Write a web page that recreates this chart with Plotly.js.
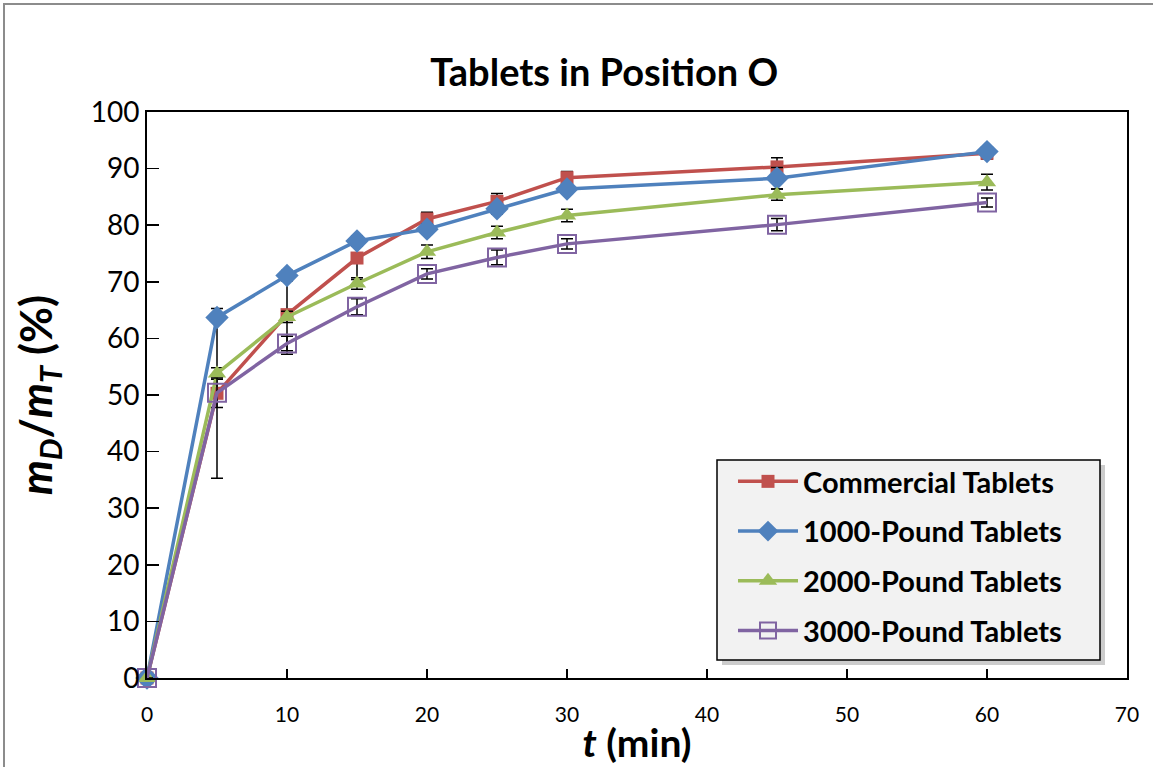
<!DOCTYPE html>
<html>
<head>
<meta charset="utf-8">
<script src="https://cdn.plot.ly/plotly-3.0.1.min.js"></script>
<style>
html,body{margin:0;padding:0;background:#fff;}
#wrap{position:relative;width:1153px;height:767px;}
#chart{position:absolute;left:0;top:0;width:1153px;height:767px;}
#frame{position:absolute;left:3px;top:3px;width:1150px;height:764px;border-left:2px solid #8c8c8c;border-top:2px solid #8c8c8c;pointer-events:none;}
</style>
</head>
<body>
<div id="wrap"><div id="chart"></div><div id="frame"></div></div>
<script>
const t = [0, 5, 10, 15, 20, 25, 30, 45, 60];
const commercial = [0, 50.3, 64.2, 74.2, 81.1, 84.2, 88.4, 90.3, 92.7];
const commercialErr = [0, 15, 7, 3.8, 1.2, 1.4, 1.1, 1.6, 1.0];
const pound1000 = [0, 63.7, 71.1, 77.2, 79.3, 82.9, 86.4, 88.3, 93.0];
const pound1000Err = [0, 0.8, 0.9, 0.9, 0.9, 0.9, 0.8, 1.9, 0.8];
const pound2000 = [0, 53.8, 63.8, 69.7, 75.3, 78.7, 81.7, 85.4, 87.6];
const pound2000Err = [0, 1.0, 1.0, 1.0, 1.2, 1.1, 1.1, 1.0, 1.4];
const pound3000 = [0, 50.4, 59.1, 65.6, 71.4, 74.3, 76.7, 80.1, 84.0];
const pound3000Err = [0, 2.6, 1.3, 1.4, 0.9, 1.3, 0.9, 1.1, 0.8];
const seriesNames = ['Commercial Tablets', '1000-Pound Tablets', '2000-Pound Tablets', '3000-Pound Tablets'];

function err(arr){
  return {type:'data', array:arr, visible:true, color:'#000', thickness:1.5, width:6};
}
const traces = [
  {x:t, y:commercial, error_y:err(commercialErr), name:seriesNames[0], legendgroup:'a',
   mode:'lines+markers', line:{color:'#C0504D', width:3.5},
   marker:{symbol:'square', size:13, color:'#C0504D'}},
  {x:t, y:pound1000, error_y:err(pound1000Err), name:seriesNames[1], legendgroup:'b',
   mode:'lines+markers', line:{color:'#4F81BD', width:3.5},
   marker:{symbol:'diamond', size:18, color:'#4F81BD'}},
  {x:t, y:pound2000, error_y:err(pound2000Err), name:seriesNames[2], legendgroup:'c',
   mode:'lines+markers', line:{color:'#9BBB59', width:3.5},
   marker:{symbol:'triangle-up', size:16, color:'#9BBB59'}},
  {x:t, y:pound3000, error_y:err(pound3000Err), name:seriesNames[3], legendgroup:'d',
   mode:'lines+markers', line:{color:'#8064A2', width:3.5},
   marker:{symbol:'square-open', size:18, color:'#8064A2', line:{width:2, color:'#8064A2'}}}
];
traces.forEach(tr => tr.cliponaxis = false);

// legend box (pixel positions converted to paper fractions of the 980x566 plot area)
const PW = 980, PH = 566, PL = 147, PB = 678;
const bx0 = (717 - PL) / PW, bx1 = (1100 - PL) / PW;
const by0 = (PB - 660) / PH, by1 = (PB - 460) / PH;
const sh = 5;

const layout = {
  width:1153, height:767,
  margin:{l:147, r:26, t:112, b:89},
  paper_bgcolor:'rgba(0,0,0,0)', plot_bgcolor:'#fff',
  font:{family:'Lato, sans-serif', color:'#000'},
  showlegend:true,
  title:{text:'<b>Tablets in Position O</b>', font:{size:38, family:'Lato, sans-serif', color:'#000'},
         x:0.524, xanchor:'center', y:0.905, yanchor:'middle'},
  xaxis:{range:[0,70], dtick:10, tick0:0, ticks:'inside', ticklen:9, tickwidth:1.5, tickcolor:'#000',
         showline:true, linecolor:'#000', linewidth:2, mirror:true, showgrid:false, zeroline:false,
         tickfont:{size:21, color:'#000'}, ticklabelstandoff:17,
         title:{text:'<b><i>t</i> (min)</b>', font:{size:39, color:'#000'}, standoff:4}},
  yaxis:{range:[0,100], dtick:10, tick0:0, ticks:'inside', ticklen:12, tickwidth:1.5, tickcolor:'#000',
         showline:true, linecolor:'#000', linewidth:2, mirror:true, showgrid:false, zeroline:false,
         tickfont:{size:28, color:'#000'},
         title:{text:'<b><i>m</i><sub><i>D</i></sub>/<i>m</i><sub><i>T</i></sub> (%)</b>', font:{size:44, color:'#000'}, standoff:24}},
  legend:{x:(733 - PL) / PW, y:(PB - 456) / PH, xanchor:'left', yanchor:'top', bgcolor:'rgba(0,0,0,0)', borderwidth:0,
          font:{size:29, color:'#000', family:'Lato, sans-serif', weight:'bold'}, traceorder:'grouped', tracegroupgap:9,
          itemwidth:60},
  shapes:[
    {type:'rect', xref:'paper', yref:'paper', x0:bx0 + sh/PW, x1:bx1 + sh/PW, y0:by0 - sh/PH, y1:by1 - sh/PH,
     fillcolor:'rgba(0,0,0,0.2)', line:{width:0}, layer:'above'},
    {type:'rect', xref:'paper', yref:'paper', x0:bx0, x1:bx1, y0:by0, y1:by1,
     fillcolor:'#f2f2f2', line:{width:1.5, color:'#000'}, layer:'above'}
  ]
};
Plotly.newPlot('chart', traces, layout, {displayModeBar:false, staticPlot:true});
</script>
</body>
</html>
